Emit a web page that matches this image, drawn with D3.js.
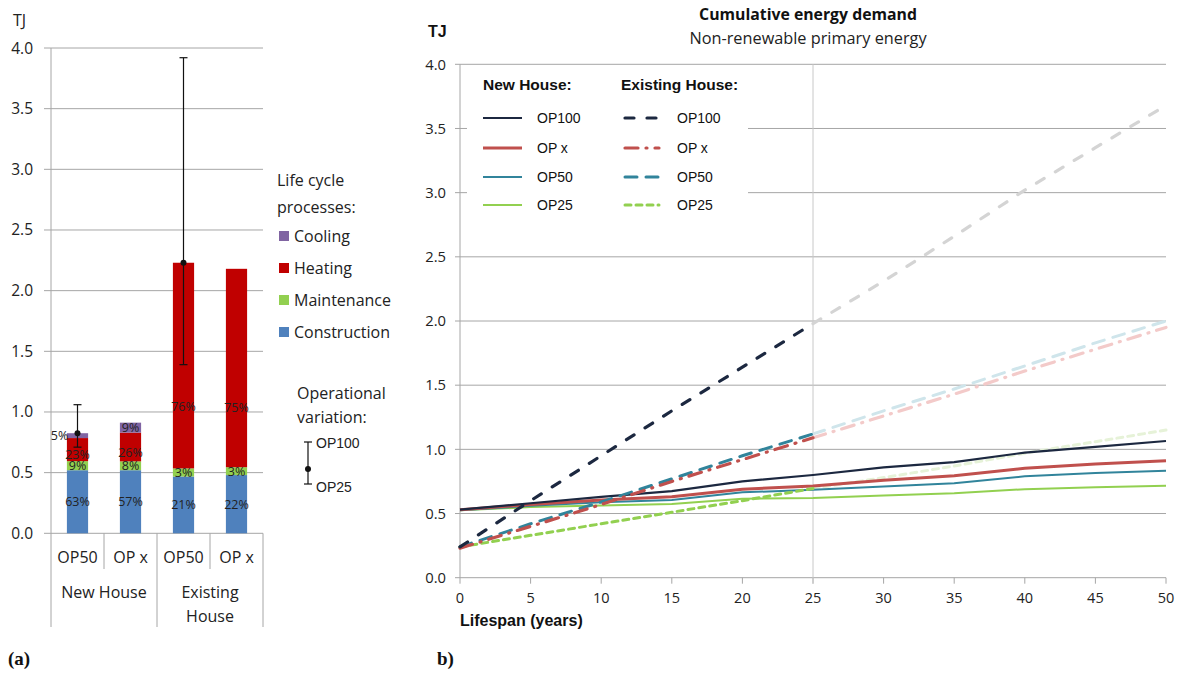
<!DOCTYPE html>
<html><head><meta charset="utf-8">
<script src="https://cdn.jsdelivr.net/npm/d3@7"></script>
<style>body{margin:0;background:#fff}</style>
</head><body>
<svg id="chart" width="1181" height="674"></svg>
<script>
// ---------- Panel (a): life cycle energy by process ----------
const barLabels = ["OP50", "OP x", "OP50", "OP x"];
const houseGroups = [["New House"], ["Existing", "House"]];
const processNames = ["Construction", "Maintenance", "Heating", "Cooling"];
const legendOrder = ["Cooling", "Heating", "Maintenance", "Construction"];
const construction = [0.52, 0.52, 0.468, 0.48];
const maintenance = [0.075, 0.073, 0.067, 0.065];
const heating = [0.19, 0.237, 1.695, 1.635];
const cooling = [0.04, 0.082, 0, 0];
const constructionPct = ["63%", "57%", "21%", "22%"];
const maintenancePct = ["9%", "8%", "3%", "3%"];
const heatingPct = ["23%", "26%", "76%", "75%"];
const coolingPct = ["5%", "9%", "", ""];
// operational variation (OP25 .. OP100) around the OP50 result
const varMid = [0.825, null, 2.23, null];
const varHigh = [1.06, null, 3.92, null];
const varLow = [0.71, null, 1.39, null];
const leftTicks = [0, 0.5, 1.0, 1.5, 2.0, 2.5, 3.0, 3.5, 4.0];

// ---------- Panel (b): cumulative energy demand ----------
const years = [0, 5, 10, 15, 20, 25, 30, 35, 40, 45, 50];
const newOP100 = [0.53, 0.58, 0.63, 0.675, 0.75, 0.80, 0.86, 0.90, 0.975, 1.02, 1.065];
const newOPx   = [0.53, 0.57, 0.605, 0.63, 0.69, 0.715, 0.76, 0.795, 0.853, 0.885, 0.912];
const newOP50  = [0.525, 0.56, 0.588, 0.605, 0.665, 0.685, 0.71, 0.735, 0.79, 0.815, 0.833];
const newOP25  = [0.525, 0.55, 0.563, 0.575, 0.615, 0.62, 0.64, 0.658, 0.69, 0.705, 0.717];
const exOP100 = [0.24, 0.60, 0.95, 1.30, 1.64, 1.98, 2.31, 2.66, 3.02, 3.35, 3.68];
const exOPx   = [0.23, 0.40, 0.57, 0.75, 0.92, 1.09, 1.26, 1.43, 1.61, 1.78, 1.95];
const exOP50  = [0.24, 0.42, 0.59, 0.77, 0.95, 1.12, 1.30, 1.47, 1.65, 1.83, 2.0];
const exOP25  = [0.24, 0.33, 0.42, 0.51, 0.60, 0.695, 0.78, 0.87, 0.97, 1.06, 1.15];
const rightYTicks = [0, 0.5, 1.0, 1.5, 2.0, 2.5, 3.0, 3.5, 4.0];
const rightXTicks = [0, 5, 10, 15, 20, 25, 30, 35, 40, 45, 50];
const scenarioNames = ["OP100", "OP x", "OP50", "OP25"];

const svg = d3.select("#chart");
svg.append("rect").attr("width", 1181).attr("height", 674).attr("fill", "#fff");

const GRID = "#a6a6a6";
const SANS = "'Open Sans', sans-serif";
const ARIAL = "'Liberation Sans', Arial, sans-serif";

// ================= Panel (a) =================
const aLeft = 51, aRight = 263, aTop = 48, aBase = 533.3;
const yA = d3.scaleLinear().domain([0, 4]).range([aBase, aTop]);
const xA = d3.scaleBand().domain(d3.range(barLabels.length)).range([aLeft, aRight])
  .paddingInner(0.6).paddingOuter(0.3);
const step = xA.step();

const ga = svg.append("g");
// gridlines + ticks
ga.selectAll(".ga-grid").data(leftTicks).join("line")
  .attr("x1", aLeft - 7).attr("x2", aRight)
  .attr("y1", d => yA(d)).attr("y2", d => yA(d))
  .attr("stroke", GRID).attr("stroke-width", 1);
ga.selectAll(".ga-tl").data(leftTicks).join("text")
  .attr("x", 33).attr("y", d => yA(d) + 5.5)
  .attr("text-anchor", "end").attr("font-family", SANS).attr("font-size", 15.5)
  .attr("fill", "#222").text(d => d.toFixed(1));
ga.append("text").attr("x", 13).attr("y", 26).attr("font-family", SANS)
  .attr("font-size", 16).attr("fill", "#222").text("TJ");

// category axis dividers
const dividerX = d3.range(barLabels.length + 1).map(i => aLeft + i * step);
ga.selectAll(".ga-div").data(dividerX).join("line")
  .attr("x1", d => d).attr("x2", d => d)
  .attr("y1", (d, i) => i === 0 ? aTop : aBase)
  .attr("y2", (d, i) => i % 2 === 0 ? 627 : 569)
  .attr("stroke", GRID).attr("stroke-width", 1);

// stacked bars
const rows = barLabels.map((b, i) => ({
  i, Construction: construction[i], Maintenance: maintenance[i],
  Heating: heating[i], Cooling: cooling[i]
}));
const stacked = d3.stack().keys(processNames)(rows);
const colorA = d3.scaleOrdinal().domain(processNames)
  .range(["#4f81bd", "#92d050", "#c00000", "#8064a2"]);
const pctLabels = {
  Construction: constructionPct, Maintenance: maintenancePct,
  Heating: heatingPct, Cooling: coolingPct
};
// heating labels sit in the lower part of their segment
const labelFrac = { Construction: 0.5, Maintenance: 0.5, Heating: 0.3, Cooling: 0.5 };
stacked.forEach(layer => {
  ga.selectAll(null).data(layer).join("rect")
    .attr("x", (d, j) => xA(j)).attr("width", xA.bandwidth())
    .attr("y", d => yA(d[1])).attr("height", d => Math.max(0, yA(d[0]) - yA(d[1])))
    .attr("fill", colorA(layer.key));
});
stacked.forEach(layer => {
  const f = labelFrac[layer.key];
  ga.selectAll(null).data(layer).join("text")
    .attr("x", (d, j) => xA(j) + xA.bandwidth() / 2 - (layer.key === "Cooling" && j === 0 ? 18 : 0))
    .attr("y", d => yA(d[0] + f * (d[1] - d[0])) + 4.5)
    .attr("text-anchor", "middle").attr("font-family", SANS).attr("font-size", 12.5)
    .attr("fill", "#222")
    .text((d, j) => pctLabels[layer.key][j]);
});

// operational variation error bars
barLabels.forEach((b, j) => {
  if (varMid[j] == null) return;
  const cx = xA(j) + xA.bandwidth() / 2;
  ga.append("line").attr("x1", cx).attr("x2", cx)
    .attr("y1", yA(varLow[j])).attr("y2", yA(varHigh[j]))
    .attr("stroke", "#111").attr("stroke-width", 1.2);
  [varLow[j], varHigh[j]].forEach(v => ga.append("line")
    .attr("x1", cx - 4).attr("x2", cx + 4).attr("y1", yA(v)).attr("y2", yA(v))
    .attr("stroke", "#111").attr("stroke-width", 1.2));
  ga.append("circle").attr("cx", cx).attr("cy", yA(varMid[j])).attr("r", 3).attr("fill", "#111");
});

// category labels
ga.selectAll(".ga-cat").data(barLabels).join("text")
  .attr("x", (d, j) => xA(j) + xA.bandwidth() / 2).attr("y", 563)
  .attr("text-anchor", "middle").attr("font-family", SANS).attr("font-size", 16)
  .attr("fill", "#222").text(d => d);
houseGroups.forEach((g, k) => {
  const cx = aLeft + (2 * k + 1) * step;
  const t = ga.append("text").attr("text-anchor", "middle").attr("font-family", SANS)
    .attr("font-size", 16).attr("fill", "#222");
  g.forEach((w, n) => t.append("tspan").attr("x", cx).attr("y", 598 + n * 24).text(w));
});

// legend (a)
const la = svg.append("g").attr("font-family", SANS).attr("fill", "#222");
la.append("text").attr("x", 277).attr("y", 186).attr("font-size", 16).text("Life cycle");
la.append("text").attr("x", 277).attr("y", 213).attr("font-size", 16).text("processes:");
legendOrder.forEach((p, k) => {
  const cy = 236 + k * 32;
  la.append("rect").attr("x", 279).attr("y", cy - 5).attr("width", 10).attr("height", 10)
    .attr("fill", colorA(p));
  la.append("text").attr("x", 294).attr("y", cy + 5.5).attr("font-size", 16).text(p);
});
la.append("text").attr("x", 297).attr("y", 399).attr("font-size", 16).text("Operational");
la.append("text").attr("x", 297).attr("y", 423).attr("font-size", 16).text("variation:");
la.append("line").attr("x1", 308).attr("x2", 308).attr("y1", 442).attr("y2", 484)
  .attr("stroke", "#111").attr("stroke-width", 1.2);
[442, 484].forEach(y => la.append("line").attr("x1", 304).attr("x2", 312)
  .attr("y1", y).attr("y2", y).attr("stroke", "#111").attr("stroke-width", 1.2));
la.append("circle").attr("cx", 308).attr("cy", 469).attr("r", 3).attr("fill", "#111");
la.append("text").attr("x", 316).attr("y", 448).attr("font-family", ARIAL).attr("font-size", 14).text("OP100");
la.append("text").attr("x", 316).attr("y", 492).attr("font-family", ARIAL).attr("font-size", 14).text("OP25");

// ================= Panel (b) =================
const xB = d3.scaleLinear().domain([0, 50]).range([460, 1166]);
const yB = d3.scaleLinear().domain([0, 4]).range([577.7, 64.3]);
const gb = svg.append("g");

gb.append("text").attr("x", 808).attr("y", 20).attr("text-anchor", "middle")
  .attr("font-family", SANS).attr("font-weight", "bold").attr("font-size", 15.8)
  .attr("fill", "#111").text("Cumulative energy demand");
gb.append("text").attr("x", 808).attr("y", 44).attr("text-anchor", "middle")
  .attr("font-family", SANS).attr("font-size", 16.3)
  .attr("fill", "#222").text("Non-renewable primary energy");
gb.append("text").attr("x", 428).attr("y", 37).attr("font-family", ARIAL)
  .attr("font-weight", "bold").attr("font-size", 16).attr("fill", "#111").text("TJ");

// horizontal gridlines
gb.selectAll(".gb-grid").data(rightYTicks).join("line")
  .attr("x1", 455).attr("x2", xB(50))
  .attr("y1", d => yB(d)).attr("y2", d => yB(d))
  .attr("stroke", GRID).attr("stroke-width", 1);
gb.selectAll(".gb-yl").data(rightYTicks).join("text")
  .attr("x", 446).attr("y", d => yB(d) + 5.2)
  .attr("text-anchor", "end").attr("font-family", SANS).attr("font-size", 14.8)
  .attr("fill", "#222").text(d => d.toFixed(1));
// x axis ticks + labels
gb.selectAll(".gb-xt").data(rightXTicks).join("line")
  .attr("x1", d => xB(d)).attr("x2", d => xB(d)).attr("y1", yB(0)).attr("y2", yB(0) + 6)
  .attr("stroke", GRID).attr("stroke-width", 1);
gb.selectAll(".gb-xl").data(rightXTicks).join("text")
  .attr("x", d => xB(d)).attr("y", 603)
  .attr("text-anchor", "middle").attr("font-family", SANS).attr("font-size", 14.5)
  .attr("fill", "#222").text(d => d);
gb.append("text").attr("x", 460).attr("y", 626).attr("font-family", ARIAL)
  .attr("font-weight", "bold").attr("font-size", 16).attr("fill", "#111")
  .text("Lifespan (years)");
// y axis line and 25-year marker
gb.append("line").attr("x1", xB(0)).attr("x2", xB(0)).attr("y1", yB(4)).attr("y2", yB(0))
  .attr("stroke", GRID).attr("stroke-width", 1);
gb.append("line").attr("x1", xB(25)).attr("x2", xB(25)).attr("y1", yB(4)).attr("y2", yB(0) + 6)
  .attr("stroke", "#c8c8c8").attr("stroke-width", 1);

const lineGen = d3.line().x(d => xB(d[0])).y(d => yB(d[1]));
const pairs = arr => years.map((yr, i) => [yr, arr[i]]);

const newSeries = [
  { vals: newOP100, color: "#1c2840", w: 2.2 },
  { vals: newOPx, color: "#c0504d", w: 3 },
  { vals: newOP50, color: "#31849b", w: 2 },
  { vals: newOP25, color: "#92d050", w: 2 }
];
const exSeries = [
  { vals: exOP100, color: "#1c2840", pale: "#d4d4d4", dash: "9,13", w: 3.2 },
  { vals: exOPx, color: "#c0504d", pale: "#f3cac9", dash: "13,8,1,8", w: 3.2 },
  { vals: exOP50, color: "#31849b", pale: "#cfe5eb", dash: "12,9", w: 3 },
  { vals: exOP25, color: "#92d050", pale: "#e6f2d8", dash: "6,5", w: 3 }
];

// faded projections beyond 25 years
exSeries.forEach(s => {
  gb.append("path").attr("d", lineGen(pairs(s.vals).filter(d => d[0] >= 25)))
    .attr("fill", "none").attr("stroke", s.pale).attr("stroke-width", s.w)
    .attr("stroke-dasharray", s.dash).attr("stroke-linecap", "round");
});
newSeries.slice().reverse().forEach(s => {
  gb.append("path").attr("d", lineGen(pairs(s.vals)))
    .attr("fill", "none").attr("stroke", s.color).attr("stroke-width", s.w);
});
exSeries.slice().reverse().forEach(s => {
  gb.append("path").attr("d", lineGen(pairs(s.vals).filter(d => d[0] <= 25)))
    .attr("fill", "none").attr("stroke", s.color).attr("stroke-width", s.w)
    .attr("stroke-dasharray", s.dash).attr("stroke-linecap", "round");
});

// legend (b)
const lb = svg.append("g").attr("font-family", ARIAL).attr("fill", "#111");
lb.append("rect").attr("x", 467).attr("y", 68).attr("width", 281).attr("height", 154).attr("fill", "#fff");
lb.append("text").attr("x", 483).attr("y", 90).attr("font-weight", "bold").attr("font-size", 15.5).text("New House:");
lb.append("text").attr("x", 621).attr("y", 90).attr("font-weight", "bold").attr("font-size", 15.5).text("Existing House:");
const rowY = [118, 148, 177, 205];
scenarioNames.forEach((n, k) => {
  const y = rowY[k];
  lb.append("line").attr("x1", 483).attr("x2", 522).attr("y1", y).attr("y2", y)
    .attr("stroke", newSeries[k].color).attr("stroke-width", newSeries[k].w);
  lb.append("text").attr("x", 537).attr("y", y + 5).attr("font-size", 14).text(n);
  lb.append("line").attr("x1", 625).attr("x2", 659).attr("y1", y).attr("y2", y)
    .attr("stroke", exSeries[k].color).attr("stroke-width", exSeries[k].w)
    .attr("stroke-dasharray", exSeries[k].dash).attr("stroke-linecap", "round");
  lb.append("text").attr("x", 677).attr("y", y + 5).attr("font-size", 14).text(n);
});

// panel captions
svg.append("text").attr("x", 8).attr("y", 665).attr("font-family", "'Liberation Serif', serif")
  .attr("font-weight", "bold").attr("font-size", 19).attr("fill", "#111").text("(a)");
svg.append("text").attr("x", 437).attr("y", 665).attr("font-family", "'Liberation Serif', serif")
  .attr("font-weight", "bold").attr("font-size", 19).attr("fill", "#111").text("b)");
</script>
</body></html>
